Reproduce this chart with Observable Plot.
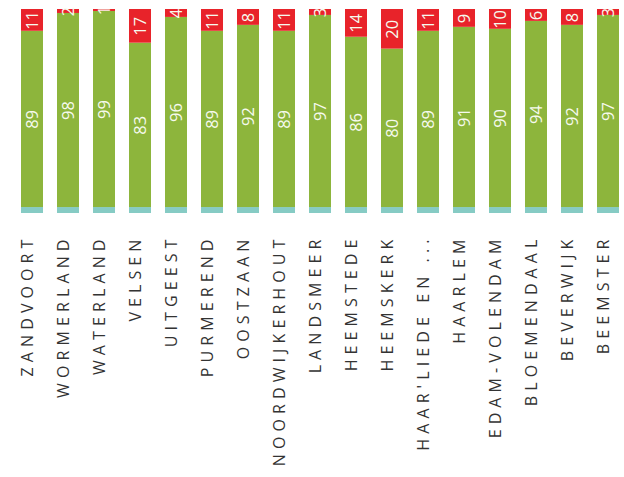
<!DOCTYPE html>
<html>
<head>
<meta charset="utf-8">
<script src="https://cdn.jsdelivr.net/npm/d3@7"></script>
<script src="https://cdn.jsdelivr.net/npm/@observablehq/plot@0.6"></script>
<style>
  html, body { margin: 0; padding: 0; background: #fff; overflow: hidden; }
  #chart svg { overflow: hidden; }
  .cat-labels text { letter-spacing: 5.1px; }
</style>
</head>
<body>
<div id="chart"></div>
<script>
const categories = ["ZANDVOORT","WORMERLAND","WATERLAND","VELSEN","UITGEEST","PURMEREND","OOSTZAAN","NOORDWIJKERHOUT","LANDSMEER","HEEMSTEDE","HEEMSKERK","HAAR'LIEDE EN ...","HAARLEM","EDAM-VOLENDAM","BLOEMENDAAL","BEVERWIJK","BEEMSTER"];
const greenValues = [89,98,99,83,96,89,92,89,97,86,80,89,91,90,94,92,97];
const redValues   = [11,2,1,17,4,11,8,11,3,14,20,11,9,10,6,8,3];
const tealValues  = [3,3,3,3,3,3,3,3,3,3,3,3,3,3,3,3,3];
const seriesNames = ["onbekend","ja","nee"];

const rows = [];
categories.forEach((c, i) => {
  rows.push({cat: c, series: "onbekend", value: tealValues[i]});
  rows.push({cat: c, series: "ja", value: greenValues[i]});
  rows.push({cat: c, series: "nee", value: redValues[i]});
});

const chart = Plot.plot({
  width: 624,
  height: 477,
  marginTop: 9,
  marginBottom: 264,
  marginLeft: 0,
  marginRight: 0,
  x: {domain: categories, range: [4.5, 634.7], padding: 0.4, axis: null},
  y: {domain: [0, 103], axis: null},
  color: {domain: seriesNames, range: ["#86cbc4", "#8db53c", "#e8232a"]},
  style: {background: "#fff", overflow: "hidden"},
  marks: [
    Plot.barY(rows, {x: "cat", y: "value", fill: "series", order: seriesNames}),
    Plot.text(rows, Plot.stackY({
      x: "cat", y: "value", z: "series", order: seriesNames,
      text: d => d.series === "onbekend" ? "" : String(d.value),
      rotate: -90, fill: "#f6faee", fontSize: 16.5,
      fontFamily: "Open Sans, sans-serif"
    })),
    Plot.text(categories, {
      x: d => d, frameAnchor: "bottom", dy: 21, rotate: -90,
      textAnchor: "end", text: d => d, fontSize: 16,
      fontFamily: "Open Sans, sans-serif", fill: "#333333",
      className: "cat-labels"
    })
  ]
});
document.getElementById("chart").appendChild(chart);
</script>
</body>
</html>
